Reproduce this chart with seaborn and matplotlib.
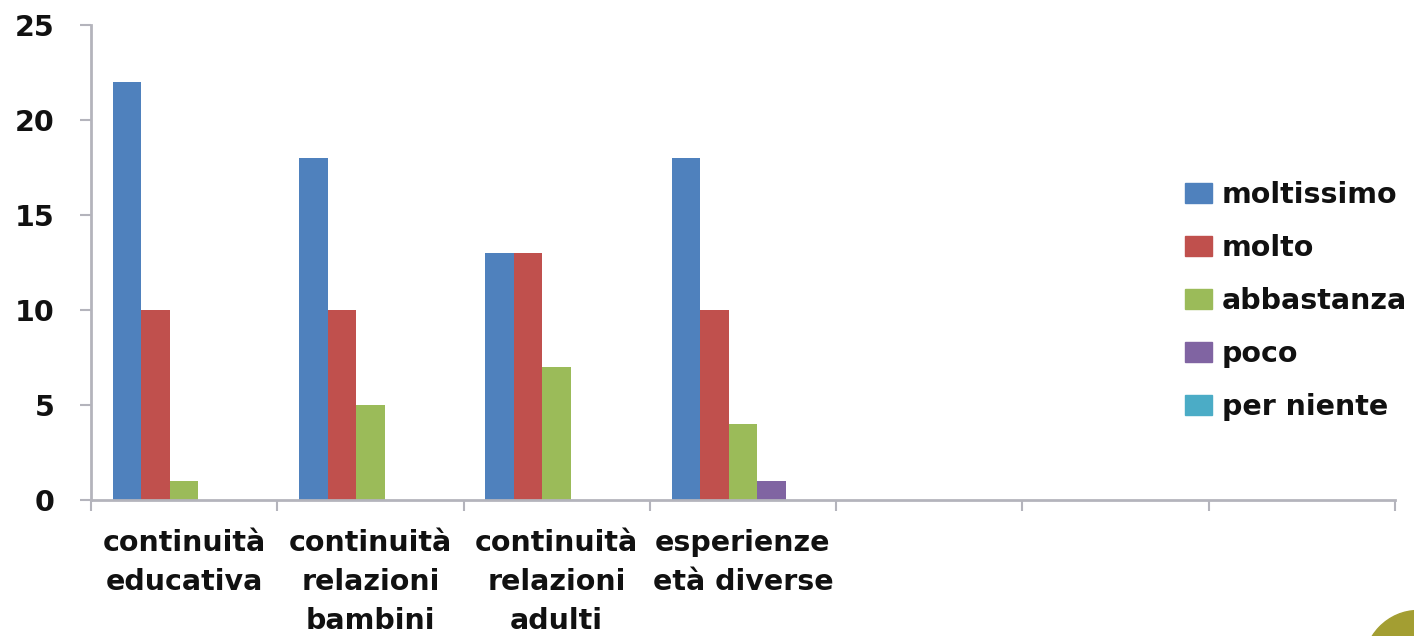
import numpy as np
import pandas as pd
import matplotlib
matplotlib.use('Agg')
import matplotlib.pyplot as plt
from matplotlib.patches import Ellipse
import seaborn as sns

# data
categories = ['continuità\neducativa', 'continuità\nrelazioni\nbambini',
              'continuità\nrelazioni\nadulti', 'esperienze\netà diverse']
empty_slots = ['vuoto 1', 'vuoto 2', 'vuoto 3']
responses = ['moltissimo', 'molto', 'abbastanza', 'poco', 'per niente']
moltissimo = [22, 18, 13, 18]
molto = [10, 10, 13, 10]
abbastanza = [1, 5, 7, 4]
poco = [0, 0, 0, 1]
per_niente = [0, 0, 0, 0]
y_ticks = [0, 5, 10, 15, 20, 25]

colors = ['#4F81BD', '#C0504D', '#9BBB59', '#8064A2', '#4BACC6']
FS = 20.5

series = [moltissimo, molto, abbastanza, poco, per_niente]
rows = []
for resp, vals in zip(responses, series):
    for cat, v in zip(categories, vals):
        rows.append({'categoria': cat, 'risposta': resp, 'valore': v})
df = pd.DataFrame(rows)

sns.set_style('white')
plt.rcParams['font.family'] = ['DejaVu Sans']
plt.rcParams['font.weight'] = 'bold'

fig = plt.figure(figsize=(14.14, 6.36), dpi=100)
ax = fig.add_axes([91 / 1414, 1 - 500 / 636, (1395 - 91) / 1414, (500 - 25) / 636])

order = categories + empty_slots
sns.barplot(data=df, x='categoria', y='valore', hue='risposta',
            order=order, hue_order=responses, palette=colors,
            saturation=1, width=0.765, gap=0, linewidth=0, ax=ax)

ax.set_xlim(-0.5, len(order) - 0.5)
ax.set_ylim(0, 25)
ax.set_yticks(y_ticks)
ax.set_yticklabels([str(t) for t in y_ticks], fontsize=FS, fontweight='bold',
                   color='#111111')
ax.set_xlabel('')
ax.set_ylabel('')

# category labels centred, tick marks on the boundaries
ax.set_xticks(range(len(order)))
ax.set_xticklabels(categories + [''] * len(empty_slots), fontsize=FS,
                   fontweight='bold', linespacing=1.5, color='#111111')
ax.set_xticks(np.arange(-0.5, len(order)), minor=True)
ax.tick_params(axis='x', which='major', length=0, pad=21)
ax.tick_params(axis='x', which='minor', length=8, width=1.5, color='#b4b4bc',
               direction='out', bottom=True)
ax.tick_params(axis='y', length=8, width=1.5, color='#b4b4bc', direction='out',
               left=True, pad=18)

for side in ['top', 'right']:
    ax.spines[side].set_visible(False)
for side in ['left', 'bottom']:
    ax.spines[side].set_color('#b4b4bc')
    ax.spines[side].set_linewidth(2)

ax.get_legend().remove()
handles = [plt.Rectangle((0, 0), 1, 1, color=c) for c in colors]
leg = fig.legend(handles, responses, loc='center left',
                 bbox_to_anchor=(1185 / 1414, 1 - 301 / 636), frameon=False,
                 handlelength=0.95, handleheight=0.7,
                 handletextpad=0.35, labelspacing=0.88, borderaxespad=0,
                 borderpad=0, prop={'weight': 'bold', 'size': FS})
for t in leg.get_texts():
    t.set_color('#111111')

# decorative leaf in the bottom-right corner
fig.patches.append(Ellipse((1418 / 1414, 1 - 668 / 636), 110 / 1414, 115 / 636,
                           color='#A39E32', transform=fig.transFigure,
                           figure=fig))

fig.savefig('out.png', dpi=100)
